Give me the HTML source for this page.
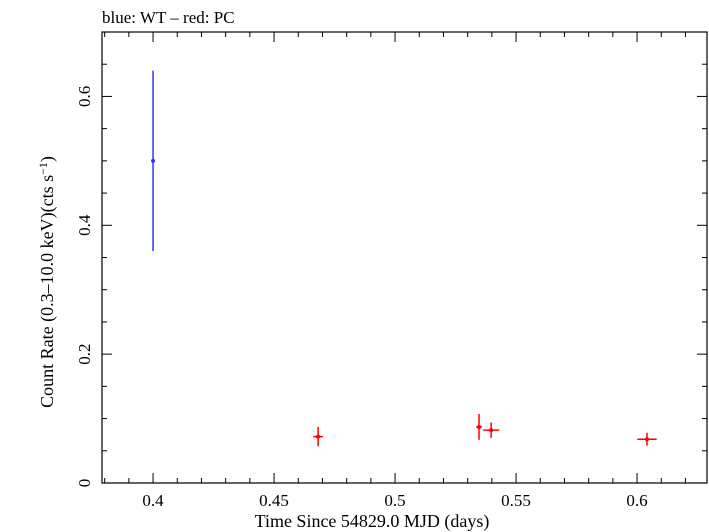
<!DOCTYPE html>
<html><head><meta charset="utf-8"><style>
body{margin:0;background:#fff}
svg{display:block;font-family:"Liberation Serif",serif}
</style></head><body>
<svg id="chart" width="709" height="532" viewBox="0 0 709 532">
<text x="102" y="23" font-size="17">blue: WT – red: PC</text>
<g id="axes"></g>
<g id="marks"></g>
<text x="372" y="527" font-size="18" text-anchor="middle">Time Since 54829.0 MJD (days)</text>
<text transform="translate(53,282) rotate(-90)" font-size="18" text-anchor="middle">Count Rate (0.3–10.0 keV)(cts s<tspan dy="-6" font-size="12">−1</tspan><tspan dy="6">)</tspan></text>
</svg>
<script>
const wtX=[0.4], wtY=[0.5], wtYErr=[0.14], wtXErr=[0.0004];
const pcX=[0.4682,0.5347,0.5397,0.6041];
const pcY=[0.072,0.087,0.082,0.068];
const pcYErr=[0.015,0.02,0.012,0.01];
const pcXErr=[0.002,0.0012,0.0033,0.004];
const xTicks=[0.4,0.45,0.5,0.55,0.6];
const xTickLabels=["0.4","0.45","0.5","0.55","0.6"];
const yTicks=[0,0.2,0.4,0.6];
const yTickLabels=["0","0.2","0.4","0.6"];
const L=102,R=707,T=32,B=483,xmin=0.3789,xmax=0.6289,ymin=0,ymax=0.7;
const sx=v=>L+(v-xmin)/(xmax-xmin)*(R-L);
const sy=v=>B-(v-ymin)/(ymax-ymin)*(B-T);
const NS="http://www.w3.org/2000/svg";
function mk(tag,attrs,parent){const e=document.createElementNS(NS,tag);for(const k in attrs)e.setAttribute(k,attrs[k]);parent.appendChild(e);return e;}
const ax=document.getElementById('axes'), mg=document.getElementById('marks');
const frame=mk('rect',{x:L,y:T,width:R-L,height:B-T,fill:'none',stroke:'#000','stroke-width':1.2},ax);


for(let i=0;i<=25;i++){const v=0.38+i*0.01;if(v>xmax)break;const x=sx(v);const major=Math.abs((v*100)%5)<0.01||Math.abs((v*100)%5-5)<0.01;const len=major?10:5;
 const t1=mk('line',{x1:x,y1:B,x2:x,y2:B-len,stroke:'#000'},ax);
 const t2=mk('line',{x1:x,y1:T,x2:x,y2:T+len,stroke:'#000'},ax);}
xTicks.forEach((v,i)=>{const t=mk('text',{x:sx(v),y:506,'font-size':17,'text-anchor':'middle'},ax);t.textContent=xTickLabels[i];});
for(let i=0;i<=14;i++){const v=i*0.05;const y=sy(v);const major=i%4===0;const len=major?10:5;
 const t1=mk('line',{x1:L,y1:y,x2:L+len,y2:y,stroke:'#000'},ax);
 const t2=mk('line',{x1:R,y1:y,x2:R-len,y2:y,stroke:'#000'},ax);}
yTicks.forEach((v,i)=>{const t=mk('text',{transform:`translate(90,${sy(v)}) rotate(-90)`,'font-size':17,'text-anchor':'middle'},ax);t.textContent=yTickLabels[i];});
function pts(X,Y,YE,XE,col,name){X.forEach((v,i)=>{const g=mk('g',{},mg);
 mk('line',{x1:sx(v),x2:sx(v),y1:sy(Y[i]-YE[i]),y2:sy(Y[i]+YE[i]),stroke:col,'stroke-width':1.5},g);
 mk('line',{x1:sx(v-XE[i]),x2:sx(v+XE[i]),y1:sy(Y[i]),y2:sy(Y[i]),stroke:col,'stroke-width':1.5},g);
 mk('circle',{cx:sx(v),cy:sy(Y[i]),r:2,fill:col},g);});}
pts(wtX,wtY,wtYErr,wtXErr,'#3333ff','wt-point');
pts(pcX,pcY,pcYErr,pcXErr,'#ff0000','pc-point');
</script>
</body></html>
